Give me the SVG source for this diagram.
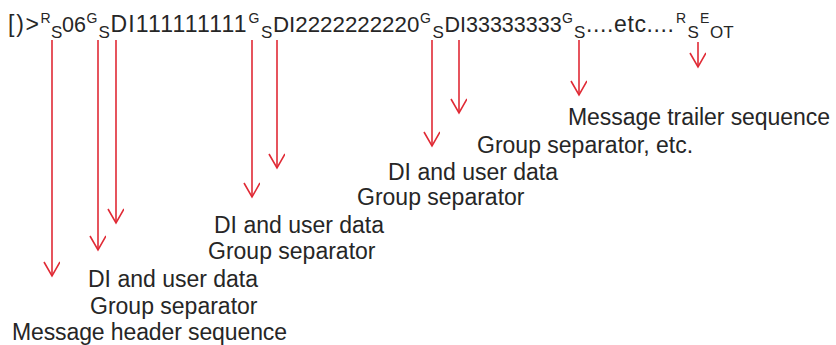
<svg xmlns="http://www.w3.org/2000/svg" width="836" height="345" viewBox="0 0 836 345">
<style>
text{font-family:"Liberation Sans",Arial,sans-serif;fill:#262626}
.m{font-size:23px}
.sp{font-size:14px}
.sb{font-size:17px}
.lb{font-size:23px}
.ar{stroke:#e02a35;stroke-width:1.6;fill:none;marker-end:url(#ah)}
</style>
<defs>
<marker id="ah" markerUnits="userSpaceOnUse" markerWidth="20" markerHeight="20" refX="15" refY="8" orient="auto" viewBox="0 0 20 20">
<path d="M1,0 L15,8 L1,16" fill="none" stroke="#e02a35" stroke-width="1.6"/>
</marker>
</defs>
<rect width="836" height="345" fill="#ffffff"/>
<g id="header-string">
<text class="m" x="8" y="32" textLength="31" lengthAdjust="spacing">[)&gt;</text>
<text class="sp" x="40.5" y="23">R</text>
<text class="sb" x="51" y="38">S</text>
<text class="m" x="62" y="32" style="font-size:21.5px">06</text>
<text class="sp" x="86.5" y="23">G</text>
<text class="sb" x="98.5" y="38">S</text>
<text class="m" x="110.5" y="32" textLength="136" lengthAdjust="spacing">DI111111111</text>
<text class="sp" x="248.5" y="23">G</text>
<text class="sb" x="261" y="38">S</text>
<text class="m" x="273" y="32" style="font-size:22.3px">DI2222222220</text>
<text class="sp" x="420" y="23">G</text>
<text class="sb" x="432.5" y="38">S</text>
<text class="m" x="444.5" y="32" style="font-size:21.5px">DI33333333</text>
<text class="sp" x="562" y="23">G</text>
<text class="sb" x="574" y="38">S</text>
<text class="m" x="586" y="32" textLength="88" lengthAdjust="spacing">....etc....</text>
<text class="sp" x="676" y="23">R</text>
<text class="sb" x="687.5" y="38">S</text>
<text class="sp" x="700" y="23">E</text>
<text class="sb" x="710" y="38">OT</text>
</g>
<g id="connectors">
<line class="ar" x1="52" y1="40" x2="52" y2="276"/>
<line class="ar" x1="98" y1="40" x2="98" y2="250"/>
<line class="ar" x1="116" y1="40" x2="116" y2="223"/>
<line class="ar" x1="252" y1="40" x2="252" y2="197"/>
<line class="ar" x1="277" y1="40" x2="277" y2="168"/>
<line class="ar" x1="432" y1="40" x2="432" y2="146"/>
<line class="ar" x1="459" y1="40" x2="459" y2="113"/>
<line class="ar" x1="579" y1="40" x2="579" y2="95"/>
<line class="ar" x1="698" y1="42" x2="698" y2="67"/>
</g>
<g id="label-header"><text class="lb" x="12" y="340" textLength="275">Message header sequence</text></g>
<g id="label-gs1"><text class="lb" x="90" y="314">Group separator</text></g>
<g id="label-di1"><text class="lb" x="88" y="287">DI and user data</text></g>
<g id="label-gs2"><text class="lb" x="208" y="259">Group separator</text></g>
<g id="label-di2"><text class="lb" x="214" y="233">DI and user data</text></g>
<g id="label-gs3"><text class="lb" x="357" y="205">Group separator</text></g>
<g id="label-di3"><text class="lb" x="388" y="180">DI and user data</text></g>
<g id="label-gs-etc"><text class="lb" x="477" y="153">Group separator, etc.</text></g>
<g id="label-trailer"><text class="lb" x="568" y="125" textLength="262">Message trailer sequence</text></g>
</svg>
